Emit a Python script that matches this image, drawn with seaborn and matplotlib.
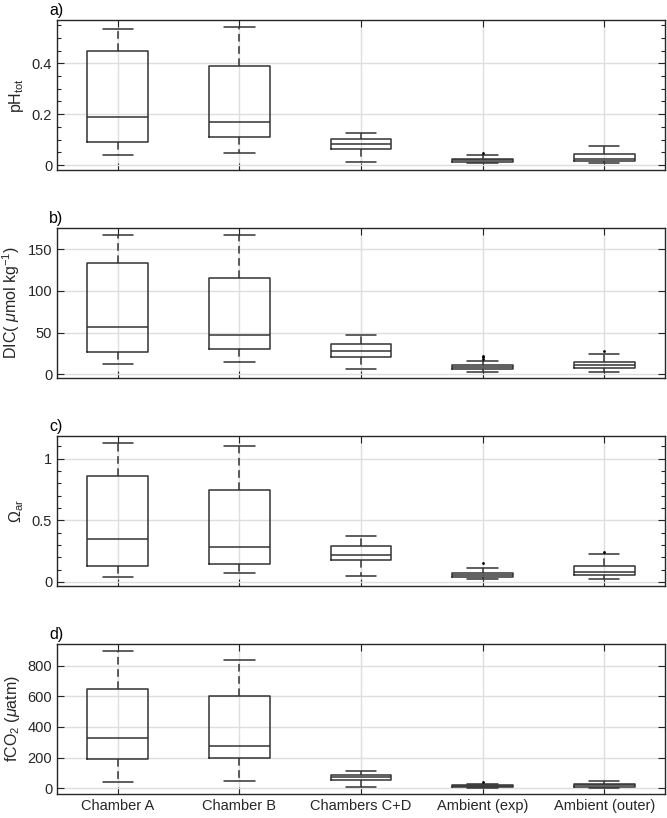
import numpy as np
import pandas as pd
import seaborn as sns
import matplotlib.pyplot as plt
from matplotlib.ticker import MultipleLocator, FormatStrFormatter

groups = ['Chamber A', 'Chamber B', 'Chambers C+D', 'Ambient (exp)', 'Ambient (outer)']

# five-number summaries: [low whisker, q1, median, q3, high whisker]
ph_stats = [[0.039, 0.089, 0.188, 0.449, 0.534],
            [0.046, 0.110, 0.169, 0.388, 0.544],
            [0.013, 0.063, 0.081, 0.101, 0.127],
            [0.009, 0.011, 0.018, 0.025, 0.038],
            [0.007, 0.016, 0.022, 0.042, 0.073]]
dic_stats = [[12.0, 26.5, 56.6, 132.8, 167.3],
             [14.4, 30.1, 47.7, 115.9, 167.3],
             [6.0, 21.3, 28.5, 36.5, 47.3],
             [2.8, 6.4, 8.4, 10.8, 15.6],
             [2.4, 7.6, 10.8, 15.2, 24.9]]
om_stats = [[0.044, 0.131, 0.346, 0.858, 1.128],
            [0.074, 0.142, 0.281, 0.747, 1.104],
            [0.046, 0.180, 0.221, 0.292, 0.376],
            [0.022, 0.041, 0.057, 0.074, 0.112],
            [0.022, 0.054, 0.082, 0.131, 0.226]]
fco2_stats = [[42, 190, 330, 649, 892],
              [48, 199, 278, 601, 835],
              [11, 52, 72, 87, 114],
              [4, 9, 17, 24, 31],
              [4, 7, 22, 31, 50]]

# outliers
ph_out_grp = ['Ambient (exp)']
ph_out_val = [0.049]
dic_out_grp = ['Ambient (exp)', 'Ambient (exp)', 'Ambient (exp)', 'Ambient (outer)']
dic_out_val = [22.0, 20.5, 18.9, 28.5]
om_out_grp = ['Ambient (exp)', 'Ambient (outer)']
om_out_val = [0.155, 0.245]
fco2_out_grp = ['Ambient (exp)']
fco2_out_val = [44]

panels = [
    (ph_stats, ph_out_grp, ph_out_val, r'pH$_{\mathregular{tot}}$', 'a)',
     (-0.02, 0.57), 0.2, 0.05, '%g'),
    (dic_stats, dic_out_grp, dic_out_val, r'DIC( $\mu$mol kg$^{\mathregular{-1}}$)', 'b)',
     (-4.4, 175.3), 50, None, '%g'),
    (om_stats, om_out_grp, om_out_val, r'$\Omega_{\mathregular{ar}}$', 'c)',
     (-0.033, 1.185), 0.5, 0.1, '%g'),
    (fco2_stats, fco2_out_grp, fco2_out_val, r'fCO$_{\mathregular{2}}$ ($\mu$atm)', 'd)',
     (-37, 940), 200, None, '%g'),
]

sns.set_style('white')
plt.rcParams['font.family'] = ['Liberation Sans', 'DejaVu Sans']
plt.rcParams['mathtext.fontset'] = 'custom'
plt.rcParams['mathtext.rm'] = 'Liberation Sans'
plt.rcParams['mathtext.it'] = 'Liberation Sans:italic'
plt.rcParams['font.size'] = 10.5

dark = '#262626'
fig, axes = plt.subplots(4, 1, figsize=(6.67, 8.18), dpi=100)
bottoms = [0.792, 0.5379, 0.2836, 0.0293]

for ax, (stats, og, ov, ylab, tag, ylim, major, minor, fmt), b in zip(axes, panels, bottoms):
    ax.set_position([0.0855, b, 0.9115, 0.1834])
    df = pd.DataFrame({'group': np.repeat(groups, 5),
                       'value': np.ravel(stats)})
    sns.boxplot(data=df, x='group', y='value', order=groups, ax=ax,
                whis=(0, 100), width=0.5, fill=False, color='#333333',
                linewidth=1.1,
                whiskerprops=dict(linestyle=(0, (5, 3))),
                medianprops=dict(color='#333333', linewidth=1.1))
    sns.stripplot(x=og, y=ov, order=groups, ax=ax, jitter=False,
                  color='k', size=2, zorder=5)
    ax.set_xlim(-0.5, 4.5)
    ax.set_ylim(*ylim)
    ax.yaxis.set_major_locator(MultipleLocator(major))
    if minor:
        ax.yaxis.set_minor_locator(MultipleLocator(minor))
    ax.yaxis.set_major_formatter(FormatStrFormatter(fmt))
    ax.grid(True, which='major', color='#dedede', linewidth=1)
    ax.set_axisbelow(True)
    ax.tick_params(which='both', direction='in', top=True, right=True,
                   bottom=True, left=True, colors=dark, labelsize=10.5)
    ax.tick_params(which='major', length=5, width=0.8)
    ax.tick_params(which='minor', length=3, width=0.8)
    ax.tick_params(axis='x', which='minor', bottom=False, top=False)
    for s in ax.spines.values():
        s.set_color(dark)
        s.set_linewidth(1.0)
    ax.set_xlabel('')
    ax.set_ylabel(ylab, fontsize=11.5, color=dark, labelpad=4)
    ax.text(-0.013, 1.015, tag, transform=ax.transAxes, ha='left', va='bottom',
            fontsize=11.5, color='k')
    if tag != 'd)':
        ax.set_xticklabels([])

fig.savefig('out.png', dpi=100)
